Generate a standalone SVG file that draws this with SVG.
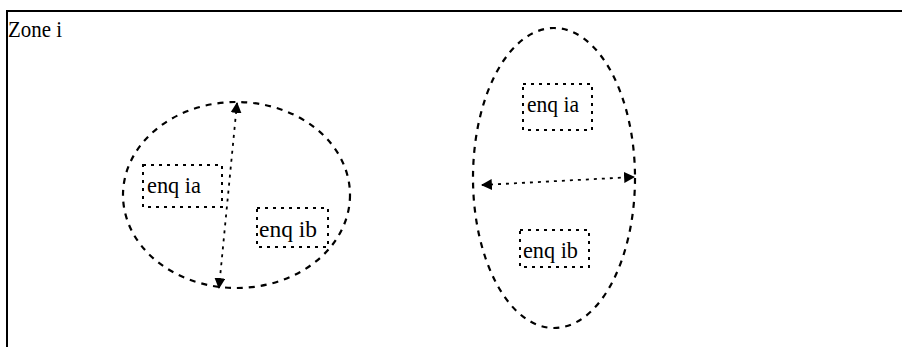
<svg xmlns="http://www.w3.org/2000/svg" width="902" height="347" viewBox="0 0 902 347">
<defs>
<style>
.frame{stroke:#000;stroke-width:2;fill:none}
.zone{fill:none;stroke:#000;stroke-width:2.2;stroke-dasharray:6 6}
.box{fill:none;stroke:#000;stroke-width:2;stroke-dasharray:3 5}
.link{fill:none;stroke:#000;stroke-width:1.8;stroke-dasharray:3 5}
.lbl{font-family:"Liberation Serif",serif;font-size:23px;fill:#000}
</style>
<marker id="ah" viewBox="0 0 10 10" refX="9" refY="5" markerWidth="11" markerHeight="11" markerUnits="userSpaceOnUse" orient="auto-start-reverse">
<path d="M0,0 L10,5 L0,10 z" fill="#000"/>
</marker>
</defs>
<rect width="902" height="347" fill="#fff"/>
<g id="frame">
<path class="frame" d="M7,347 L7,11 L902,11"/>
<text class="lbl" x="8" y="37" textLength="54" lengthAdjust="spacingAndGlyphs">Zone i</text>
</g>
<g id="zone-left">
<ellipse class="zone" cx="236.5" cy="195" rx="113.5" ry="93"/>
</g>
<g id="zone-right">
<ellipse class="zone" cx="554" cy="178" rx="81" ry="150"/>
</g>
<g id="enq-ia-left">
<rect class="box" x="143" y="165" width="79" height="42"/>
<text class="lbl" x="147" y="193" textLength="54" lengthAdjust="spacingAndGlyphs">enq ia</text>
</g>
<g id="enq-ib-left">
<rect class="box" x="257" y="208" width="71" height="39"/>
<text class="lbl" x="259" y="237" textLength="58" lengthAdjust="spacingAndGlyphs">enq ib</text>
</g>
<g id="enq-ia-right">
<rect class="box" x="523" y="84" width="69" height="46"/>
<text class="lbl" x="527" y="112" textLength="52" lengthAdjust="spacingAndGlyphs">enq ia</text>
</g>
<g id="enq-ib-right">
<rect class="box" x="520" y="230" width="69" height="37"/>
<text class="lbl" x="523" y="258" textLength="55" lengthAdjust="spacingAndGlyphs">enq ib</text>
</g>
<g id="connectors">
<line class="link" x1="237" y1="103" x2="219" y2="288" marker-start="url(#ah)" marker-end="url(#ah)"/>
<line class="link" x1="482" y1="185" x2="634" y2="177" marker-start="url(#ah)" marker-end="url(#ah)"/>
</g>
</svg>
